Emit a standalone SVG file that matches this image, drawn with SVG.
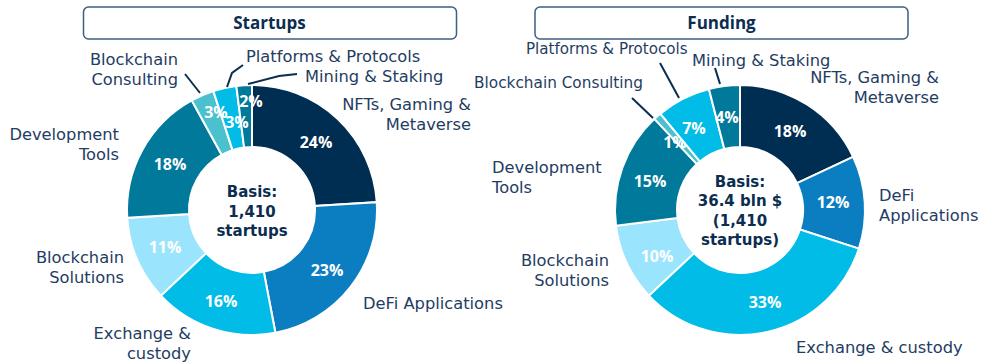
<svg xmlns="http://www.w3.org/2000/svg" width="992" height="362" viewBox="0 0 992 362">
<style>
.bg{fill:#ffffff}
.box{fill:#ffffff;stroke:#3f5e80;stroke-width:1.5}
.title{font-family:"Open Sans","Liberation Sans",sans-serif;font-weight:700;font-size:17px;fill:#0b2d50;text-anchor:middle}
.lbl{font-family:"DejaVu Sans","Liberation Sans",sans-serif;font-size:16.3px;fill:#1f3d63}
.end{text-anchor:end}
.pct{font-family:"Open Sans","Liberation Sans",sans-serif;font-weight:700;font-size:16px;fill:#ffffff;text-anchor:middle}
.ctr{font-family:"DejaVu Sans","Liberation Sans",sans-serif;font-weight:700;font-size:15px;fill:#0b2d50;text-anchor:middle}
.seg{stroke:#ffffff;stroke-width:2;stroke-linejoin:miter}
.navy{fill:#002d52}
.blue{fill:#0b7ec1}
.cyan{fill:#00bce6}
.light{fill:#9ae5fd}
.teal{fill:#00799b}
.cons{fill:#4bc0cf}
.lead{fill:none;stroke:#0b2d50;stroke-width:2}
</style>
<rect class="bg" x="0" y="0" width="992" height="362"/>

<g id="title-startups">
<rect class="box" x="83.5" y="7" width="373" height="32" rx="5"/>
<text class="title" x="269.5" y="29">Startups</text>
</g>
<g id="title-funding">
<rect class="box" x="535" y="7" width="373" height="32" rx="5"/>
<text class="title" x="721.5" y="29">Funding</text>
</g>

<!-- Startups donut -->
<g id="s-nfts">
<path class="seg navy" d="M252,85 A125,125 0 0 1 376.75,202.15 L314.88,206.04 A63,63 0 0 0 252,147 Z"/>
<text class="pct" x="316" y="148">24%</text>
<text class="lbl end" x="471" y="110">NFTs, Gaming &amp;</text>
<text class="lbl end" x="471" y="129.5">Metaverse</text>
</g>
<g id="s-defi">
<path class="seg blue" d="M376.75,202.15 A125,125 0 0 1 275.42,332.79 L263.8,271.88 A63,63 0 0 0 314.88,206.04 Z"/>
<text class="pct" x="327" y="276">23%</text>
<text class="lbl" x="363" y="309">DeFi Applications</text>
</g>
<g id="s-exchange">
<path class="seg cyan" d="M275.42,332.79 A125,125 0 0 1 160.88,295.57 L206.07,253.13 A63,63 0 0 0 263.8,271.88 Z"/>
<text class="pct" x="221" y="307">16%</text>
<text class="lbl end" x="191" y="339">Exchange &amp;</text>
<text class="lbl end" x="191" y="358.5">custody</text>
</g>
<g id="s-solutions">
<path class="seg light" d="M160.88,295.57 A125,125 0 0 1 127.25,217.85 L189.12,213.96 A63,63 0 0 0 206.07,253.13 Z"/>
<text class="pct" x="165" y="253">11%</text>
<text class="lbl end" x="124" y="263">Blockchain</text>
<text class="lbl end" x="124" y="282.5">Solutions</text>
</g>
<g id="s-devtools">
<path class="seg teal" d="M127.25,217.85 A125,125 0 0 1 191.78,100.46 L221.65,154.79 A63,63 0 0 0 189.12,213.96 Z"/>
<text class="pct" x="170" y="170">18%</text>
<text class="lbl end" x="119" y="140">Development</text>
<text class="lbl end" x="119" y="159.5">Tools</text>
</g>
<g id="s-consulting">
<path class="seg cons" d="M191.78,100.46 A125,125 0 0 1 213.37,91.12 L232.53,150.08 A63,63 0 0 0 221.65,154.79 Z"/>
<text class="lbl end" x="178" y="65">Blockchain</text>
<text class="lbl end" x="178" y="84.5">Consulting</text>
</g>
<g id="s-platforms">
<path class="seg cyan" d="M213.37,91.12 A125,125 0 0 1 236.33,85.99 L244.1,147.5 A63,63 0 0 0 232.53,150.08 Z"/>
<text class="lbl" x="246" y="62">Platforms &amp; Protocols</text>
</g>
<g id="s-mining">
<path class="seg teal" d="M236.33,85.99 A125,125 0 0 1 252,85 L252,147 A63,63 0 0 0 244.1,147.5 Z"/>
<text class="lbl" x="305" y="81.5">Mining &amp; Staking</text>
</g>
<g id="s-pct-small">
<text class="pct" x="216" y="118">3%</text>
<text class="pct" x="237" y="128">3%</text>
<text class="pct" x="251" y="107">2%</text>
</g>
<g id="s-center">
<text class="ctr" x="252" y="197">Basis:</text>
<text class="ctr" x="252" y="216.5">1,410</text>
<text class="ctr" x="252" y="236">startups</text>
</g>

<!-- Funding donut -->
<g id="f-nfts">
<path class="seg navy" d="M740,85 A125,125 0 0 1 853.1,156.78 L797,183.18 A63,63 0 0 0 740,147 Z"/>
<text class="pct" x="790" y="137">18%</text>
<text class="lbl end" x="939" y="83">NFTs, Gaming &amp;</text>
<text class="lbl end" x="939" y="103">Metaverse</text>
</g>
<g id="f-defi">
<path class="seg blue" d="M853.1,156.78 A125,125 0 0 1 858.88,248.63 L799.92,229.47 A63,63 0 0 0 797,183.18 Z"/>
<text class="pct" x="833" y="208">12%</text>
<text class="lbl" x="879" y="201">DeFi</text>
<text class="lbl" x="879" y="220.5">Applications</text>
</g>
<g id="f-exchange">
<path class="seg cyan" d="M858.88,248.63 A125,125 0 0 1 648.88,295.57 L694.07,253.13 A63,63 0 0 0 799.92,229.47 Z"/>
<text class="pct" x="765" y="308">33%</text>
<text class="lbl" x="796" y="353">Exchange &amp; custody</text>
</g>
<g id="f-solutions">
<path class="seg light" d="M648.88,295.57 A125,125 0 0 1 615.99,225.67 L677.5,217.9 A63,63 0 0 0 694.07,253.13 Z"/>
<text class="pct" x="657" y="262">10%</text>
<text class="lbl end" x="609" y="266">Blockchain</text>
<text class="lbl end" x="609" y="285.5">Solutions</text>
</g>
<g id="f-devtools">
<path class="seg teal" d="M615.99,225.67 A125,125 0 0 1 654.43,118.88 L696.87,164.07 A63,63 0 0 0 677.5,217.9 Z"/>
<text class="pct" x="650" y="187">15%</text>
<text class="lbl" x="492" y="173">Development</text>
<text class="lbl" x="492" y="192.5">Tools</text>
</g>
<g id="f-consulting">
<path class="seg cons" d="M654.43,118.88 A125,125 0 0 1 660.32,113.69 L699.84,161.46 A63,63 0 0 0 696.87,164.07 Z"/>
<text class="pct" x="675" y="148">1%</text>
<text class="lbl end" x="643" y="88" style="font-size:15.3px">Blockchain Consulting</text>
</g>
<g id="f-platforms">
<path class="seg cyan" d="M660.32,113.69 A125,125 0 0 1 708.91,88.93 L724.33,148.98 A63,63 0 0 0 699.84,161.46 Z"/>
<text class="pct" x="694" y="134">7%</text>
<text class="lbl" x="526" y="54" style="font-size:15.1px">Platforms &amp; Protocols</text>
</g>
<g id="f-mining">
<path class="seg teal" d="M708.91,88.93 A125,125 0 0 1 740,85 L740,147 A63,63 0 0 0 724.33,148.98 Z"/>
<text class="pct" x="727" y="123">4%</text>
<text class="lbl" x="692" y="66">Mining &amp; Staking</text>
</g>
<g id="f-center">
<text class="ctr" x="740" y="187">Basis:</text>
<text class="ctr" x="740" y="206">36.4 bln $</text>
<text class="ctr" x="740" y="225.5">(1,410</text>
<text class="ctr" x="740" y="245">startups)</text>
</g>

<g id="connectors">
<path class="lead" d="M185,74 L200,93"/>
<path class="lead" d="M243,65 L232,73 L227,87"/>
<path class="lead" d="M297,74 L279,76 L248,84"/>
<path class="lead" d="M632,98 L653,118"/>
<path class="lead" d="M660,63 L679,98"/>
<path class="lead" d="M715,68 L720,84"/>
</g>
</svg>
